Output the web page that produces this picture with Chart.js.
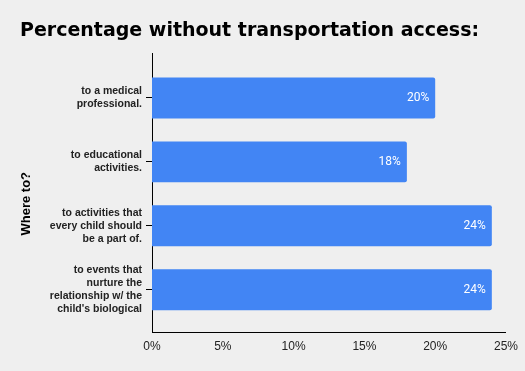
<!DOCTYPE html>
<html>
<head>
<meta charset="utf-8">
<script src="https://cdn.jsdelivr.net/npm/chart.js@4.4.1/dist/chart.umd.min.js"></script>
<style>
  html, body { margin: 0; padding: 0; background: #efefef; }
  #wrap { width: 525px; height: 371px; }
</style>
</head>
<body>
<div id="wrap"><canvas id="accessChart"></canvas></div>
<script>
// categories (wrapped as in the original)
const categories = [
  ["to a medical", "professional."],
  ["to educational", "activities."],
  ["to activities that", "every child should", "be a part of."],
  ["to events that", "nurture the", "relationship w/ the", "child's biological"]
];
const percentages = [20, 18, 24, 24];
const xTicks = [0, 5, 10, 15, 20, 25];

// white value labels at the end of each bar
const barLabels = {
  id: "barLabels",
  afterDatasetsDraw(chart) {
    const ctx = chart.ctx;
    const meta = chart.getDatasetMeta(0);
    ctx.save();
    ctx.fillStyle = "#ffffff";
    ctx.font = "12px Roboto";
    ctx.textAlign = "right";
    ctx.textBaseline = "middle";
    meta.data.forEach((bar, i) => {
      ctx.fillText(percentages[i] + "%", bar.x - 6, bar.y);
    });
    ctx.restore();
  }
};

const ctx = document.getElementById("accessChart").getContext("2d");
new Chart(ctx, {
  type: "bar",
  data: {
    datasets: [{
      data: percentages.map((v, i) => ({ x: v, y: i })),
      backgroundColor: "#4285f4",
      borderRadius: 2,
      borderSkipped: "start",
      barPercentage: 0.64,
      categoryPercentage: 1
    }]
  },
  options: {
    indexAxis: "y",
    responsive: true,
    maintainAspectRatio: false,
    animation: false,
    layout: { padding: { left: 20, right: 18, top: 0, bottom: 0 } },
    plugins: {
      legend: { display: false },
      tooltip: { enabled: false },
      title: {
        display: true,
        text: "Percentage without transportation access:",
        align: "start",
        color: "#000000",
        font: { family: "DejaVu Sans", size: 19, weight: "bold", lineHeight: 1.2 },
        padding: { top: 20, bottom: 11 }
      }
    },
    scales: {
      x: {
        type: "linear",
        min: 0,
        max: 25,
        afterFit(scale) { scale.height = 39; },
        afterBuildTicks(scale) { scale.ticks = xTicks.map(v => ({ value: v })); },
        grid: { display: false, drawTicks: false },
        border: { display: true, color: "#000000", width: 1 },
        ticks: {
          padding: 7,
          color: "#222222",
          font: { family: "Liberation Sans", size: 12 },
          callback: v => v + "%"
        }
      },
      y: {
        type: "linear",
        reverse: true,
        offset: false,
        min: -0.69,
        max: 3.66,
        afterFit(scale) { scale.width = 132; },
        afterBuildTicks(scale) { scale.ticks = categories.map((c, i) => ({ value: i })); },
        grid: { display: true, offset: false, drawOnChartArea: false, drawTicks: true, tickLength: 6, color: "#000000" },
        border: { display: true, color: "#000000", width: 1 },
        ticks: {
          padding: 4,
          autoSkip: false,
          color: "#222222",
          font: { family: "Liberation Sans", size: 10.5, weight: "bold", lineHeight: 1.25 },
          callback: v => categories[v]
        },
        title: {
          display: true,
          text: "Where to?      ",
          color: "#000000",
          padding: 0,
          font: { family: "Liberation Sans", size: 13, weight: "bold", lineHeight: 1 }
        }
      }
    }
  },
  plugins: [barLabels]
});
</script>
</body>
</html>
